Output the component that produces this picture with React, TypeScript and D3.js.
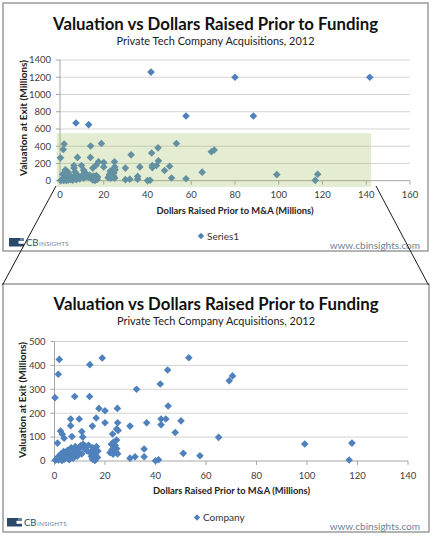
import React from "react";
import * as d3 from "d3";

// ---- Data ----
const raisedMillions = [
  1.9, 1.5, 0.2, 8.0, 14.0, 18.9, 13.9, 32.5, 41.9, 44.8, 45.0, 17.6, 20.0, 24.9, 6.4, 9.8, 6.4, 16.5, 15.0, 20.0,
  25.0, 24.6, 25.2, 29.9, 36.5, 42.2, 44.1, 42.2, 47.8, 50.1, 53.2, 69.2, 70.5, 65.0, 51.0, 57.6, 99.1, 117.8, 116.7, 35.5,
  29.9, 31.9, 35.5, 40.0, 41.2, 23.0, 24.6, 23.3, 10.8, 11.2, 2.4, 3.1, 3.8, 6.9, 1.2,
  0.3, 0.8, 1.2, 1.6, 2.0, 2.2, 2.6, 3.0, 3.2, 3.6, 4.0, 4.2, 4.8, 5.2, 5.5, 5.8, 6.2, 6.6, 7.0, 7.4,
  7.8, 8.2, 8.6, 9.0, 9.4, 10.0, 10.4, 10.8, 11.4, 12.0, 12.4, 13.0, 13.5, 14.2, 14.6, 15.0, 15.2, 15.6, 16.0, 16.2,
  16.6, 17.0, 17.2, 22.0, 22.8, 23.2, 23.8, 24.2, 24.6, 25.0, 22.5, 24.0,
];
const valuationMillions = [
  425, 363, 265, 270, 403, 431, 270, 300, 322, 381, 230, 220, 210, 220, 176, 176, 148, 180, 146, 160,
  160, 134, 128, 146, 160, 176, 176, 152, 119, 168, 432, 336, 356, 99, 32, 22, 71, 75, 4, 50,
  12, 18, 18, 1, 5, 113, 88, 78, 123, 100, 125, 112, 95, 102, 75,
  3, 8, 15, 4, 22, 10, 30, 2, 18, 40, 8, 28, 15, 45, 35, 5, 20, 55, 40, 12,
  28, 60, 48, 20, 38, 55, 65, 30, 70, 50, 60, 42, 66, 35, 20, 8, 55, 45, 2, 30,
  60, 15, 42, 35, 48, 28, 58, 40, 52, 30, 70, 66,
];
const outlierRaised = [7.3, 13.1, 41.6, 57.6, 80.0, 88.4, 141.6];
const outlierValuation = [670, 650, 1260, 750, 1200, 750, 1200];

const topXTicks = [0, 20, 40, 60, 80, 100, 120, 140, 160];
const topYTicks = [0, 200, 400, 600, 800, 1000, 1200, 1400];
const bottomXTicks = [0, 20, 40, 60, 80, 100, 120, 140];
const bottomYTicks = [0, 100, 200, 300, 400, 500];
const highlightRaised = [-1.5, 142.2];
const highlightValuation = [-73, 550];

const TITLE = "Valuation vs Dollars Raised Prior to Funding";
const SUBTITLE = "Private Tech Company Acquisitions, 2012";
const X_TITLE = "Dollars Raised Prior to M&A (Millions)";
const Y_TITLE = "Valuation at Exit (Millions)";
const URL = "www.cbinsights.com";

const FONT = "Lato, 'Open Sans', 'DejaVu Sans', sans-serif";
const MARKER = "#4f81bd";

type Panel = {
  frame: [number, number, number, number];
  titleY: number;
  subtitleY: number;
  xRange: [number, number];
  yRange: [number, number];
  xDomain: [number, number];
  yDomain: [number, number];
  xTicks: number[];
  yTicks: number[];
  xTickLabelY: number;
  xTitleX: number;
  xTitleY: number;
  yTitleX: number;
  yTitleY: number;
  legendX: number;
  legendY: number;
  legendLabel: string;
  logoX: number;
  logoY: number;
  urlY: number;
  xs: number[];
  ys: number[];
  highlight: boolean;
};

const diamond = d3.symbol(d3.symbolSquare, 29)() as string;
const legendDiamond = d3.symbol(d3.symbolSquare, 20)() as string;

function ChartPanel({ p }: { p: Panel }) {
  const x = d3.scaleLinear().domain(p.xDomain).range(p.xRange);
  const y = d3.scaleLinear().domain(p.yDomain).range(p.yRange);
  const [fx, fy, fw, fh] = p.frame;
  const cx = fx + fw / 2;
  const pts = d3.range(p.xs.length).map((i) => ({ x: p.xs[i], y: p.ys[i] }));
  return (
    <g>
      <rect x={fx} y={fy} width={fw} height={fh} fill="#fff" stroke="#8c8c8c" strokeWidth={1.3} />
      <text x={cx} y={p.titleY} textAnchor="middle" fontFamily={FONT} fontWeight={700} fontSize={16.5}
        fill="#111" textLength={325} lengthAdjust="spacingAndGlyphs">{TITLE}</text>
      <text x={cx} y={p.subtitleY} textAnchor="middle" fontFamily={FONT} fontSize={10.5}
        fill="#222" textLength={198} lengthAdjust="spacingAndGlyphs">{SUBTITLE}</text>
      {/* gridlines */}
      {p.yTicks.map((t) => (
        <line key={"g" + t} x1={p.xRange[0]} x2={p.xRange[1]} y1={y(t)} y2={y(t)}
          stroke={t === 0 ? "#a6a6a6" : "#d4d4d4"} strokeWidth={1} />
      ))}
      <line x1={p.xRange[0]} x2={p.xRange[0]} y1={p.yRange[0]} y2={p.yRange[1]} stroke="#a6a6a6" />
      {p.xTicks.map((t) => (
        <line key={"xt" + t} x1={x(t)} x2={x(t)} y1={p.yRange[0]} y2={p.yRange[0] + 4} stroke="#a6a6a6" />
      ))}
      {p.yTicks.map((t) => (
        <line key={"yt" + t} x1={p.xRange[0] - 4} x2={p.xRange[0]} y1={y(t)} y2={y(t)} stroke="#a6a6a6" />
      ))}
      {/* tick labels */}
      {p.yTicks.map((t) => (
        <text key={"yl" + t} x={p.xRange[0] - 9} y={y(t) + 3.3} textAnchor="end" fontFamily={FONT}
          fontSize={9.5} fill="#404040">{t}</text>
      ))}
      {p.xTicks.map((t) => (
        <text key={"xl" + t} x={x(t)} y={p.xTickLabelY} textAnchor="middle" fontFamily={FONT}
          fontSize={9.5} fill="#404040">{t}</text>
      ))}
      <text x={p.xTitleX} y={p.xTitleY} textAnchor="middle" fontFamily={FONT} fontWeight={700}
        fontSize={9.5} fill="#222" textLength={157} lengthAdjust="spacingAndGlyphs">{X_TITLE}</text>
      <text transform={`translate(${p.yTitleX},${p.yTitleY}) rotate(-90)`} textAnchor="middle"
        fontFamily={FONT} fontWeight={700} fontSize={9} fill="#222" textLength={116}
        lengthAdjust="spacingAndGlyphs">{Y_TITLE}</text>
      {/* points */}
      {pts.map((d, i) => (
        <path key={"p" + i} d={diamond} transform={`translate(${x(d.x)},${y(d.y)}) rotate(45)`} fill={MARKER} />
      ))}
      {p.highlight && (
        <rect x={x(highlightRaised[0])} y={y(highlightValuation[1])}
          width={x(highlightRaised[1]) - x(highlightRaised[0])}
          height={y(highlightValuation[0]) - y(highlightValuation[1])}
          fill="#9bbb59" fillOpacity={0.27} />
      )}
      {/* legend */}
      <path d={legendDiamond} transform={`translate(${p.legendX},${p.legendY}) rotate(45)`} fill={MARKER} />
      <text x={p.legendX + 6} y={p.legendY + 3.5} fontFamily={FONT} fontSize={10} fill="#333">{p.legendLabel}</text>
      {/* logo */}
      <g transform={`translate(${p.logoX},${p.logoY})`}>
        <rect x={0} y={0} width={15} height={8.5} fill="#2b4a6b" />
        <rect x={9.5} y={2.8} width={5.5} height={3} fill="#fff" />
        <rect x={11} y={0} width={4} height={2.8} fill="#5f87b0" />
        <text x={17} y={8} fontFamily={FONT} fontSize={9.5} fill="#2b4a6b">CB</text>
        <text x={30} y={8} fontFamily={FONT} fontSize={6.3} fill="#6a84a0" letterSpacing={0.2}>INSIGHTS</text>
      </g>
      <text x={420} y={p.urlY} textAnchor="end" fontFamily={FONT} fontSize={10} fill="#6f8196">{URL}</text>
    </g>
  );
}

export default function App() {
  const top: Panel = {
    frame: [3, 3, 425, 248],
    titleY: 30,
    subtitleY: 45,
    xRange: [60, 410],
    yRange: [180.7, 60],
    xDomain: [0, 160],
    yDomain: [0, 1400],
    xTicks: topXTicks,
    yTicks: topYTicks,
    xTickLabelY: 197.5,
    xTitleX: 235,
    xTitleY: 213.5,
    yTitleX: 27,
    yTitleY: 118,
    legendX: 201,
    legendY: 236,
    legendLabel: "Series1",
    logoX: 9,
    logoY: 238,
    urlY: 248.5,
    xs: raisedMillions.concat(outlierRaised),
    ys: valuationMillions.concat(outlierValuation),
    highlight: true,
  };
  const bottom: Panel = {
    frame: [3, 284, 426, 248],
    titleY: 310,
    subtitleY: 324.5,
    xRange: [54.5, 408],
    yRange: [461, 341.5],
    xDomain: [0, 140],
    yDomain: [0, 500],
    xTicks: bottomXTicks,
    yTicks: bottomYTicks,
    xTickLabelY: 478.5,
    xTitleX: 231.5,
    xTitleY: 493.5,
    yTitleX: 26,
    yTitleY: 400,
    legendX: 197,
    legendY: 517.5,
    legendLabel: "Company",
    logoX: 7,
    logoY: 518,
    urlY: 530,
    xs: raisedMillions,
    ys: valuationMillions,
    highlight: false,
  };
  return (
    <svg width={436} height={550} style={{ position: "absolute", left: 0, top: 0, background: "#fff" }}>
      <rect x={0} y={0} width={436} height={550} fill="#fff" />
      <ChartPanel p={top} />
      <ChartPanel p={bottom} />
      <line x1={56} y1={186} x2={2.5} y2={285} stroke="#1a1a1a" strokeWidth={1} />
      <line x1={376} y1={186} x2={428.5} y2={285} stroke="#1a1a1a" strokeWidth={1} />
    </svg>
  );
}
